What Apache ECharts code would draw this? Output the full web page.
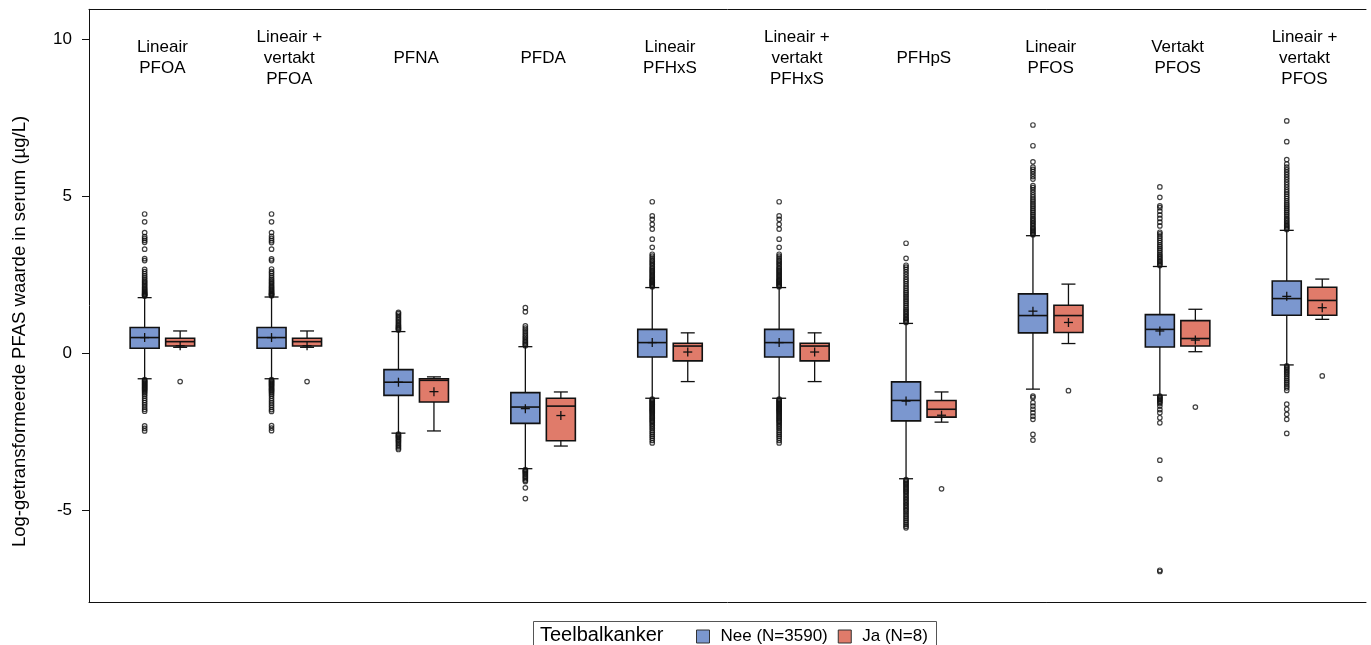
<!DOCTYPE html>
<html><head><meta charset="utf-8">
<script src="https://cdn.jsdelivr.net/npm/echarts@6/dist/echarts.min.js"></script>
<style>html,body{margin:0;padding:0;background:#fff}#c{width:1371px;height:645px}</style>
</head><body><div id="c"></div>
<script>
// ---------- DATA ----------
const categories = ['Lineair\nPFOA', 'Lineair +\nvertakt\nPFOA', 'PFNA', 'PFDA', 'Lineair\nPFHxS',
  'Lineair +\nvertakt\nPFHxS', 'PFHpS', 'Lineair\nPFOS', 'Vertakt\nPFOS', 'Lineair +\nvertakt\nPFOS'];
const yTicks = [-5, 0, 5, 10];
const seriesNames = ['Nee (N=3590)', 'Ja (N=8)'];
const legendTitle = 'Teelbalkanker';
const yTitle = 'Log-getransformeerde PFAS waarde in serum (µg/L)';

// [lower whisker, Q1, median, Q3, upper whisker]
const neeBox = [
  [-0.81, 0.16, 0.50, 0.82, 1.77],
  [-0.81, 0.16, 0.50, 0.82, 1.79],
  [-2.54, -1.34, -0.92, -0.52, 0.69],
  [-3.67, -2.23, -1.71, -1.25, 0.21],
  [-1.43, -0.12, 0.34, 0.76, 2.09],
  [-1.43, -0.12, 0.34, 0.76, 2.09],
  [-3.99, -2.15, -1.50, -0.91, 0.95],
  [-1.14, 0.65, 1.20, 1.89, 3.74],
  [-1.33, 0.20, 0.76, 1.23, 2.76],
  [-0.37, 1.21, 1.74, 2.30, 3.91]
];
const neeMean = [0.50, 0.50, -0.92, -1.76, 0.34, 0.34, -1.52, 1.34, 0.71, 1.81];

const jaBox = [
  [0.19, 0.23, 0.37, 0.48, 0.71],
  [0.19, 0.23, 0.37, 0.48, 0.71],
  [-2.47, -1.55, -0.86, -0.81, -0.75],
  [-2.95, -2.78, -1.68, -1.43, -1.23],
  [-0.90, -0.24, 0.23, 0.32, 0.65],
  [-0.90, -0.24, 0.23, 0.32, 0.65],
  [-2.19, -2.03, -1.78, -1.50, -1.23],
  [0.31, 0.66, 1.20, 1.53, 2.20],
  [0.05, 0.23, 0.47, 1.04, 1.40],
  [1.08, 1.21, 1.68, 2.10, 2.36]
];
const jaMean = [0.24, 0.24, -1.22, -1.98, 0.04, 0.04, -1.97, 0.98, 0.42, 1.45];

const neeOutliers = [
  [1.82,1.84,1.86,1.88,1.90,1.93,1.96,1.99,2.03,2.07,2.11,2.16,2.20,2.25,2.29,2.34,2.40,2.46,2.53,2.60,2.67,2.95,3.01,3.31,3.53,3.59,3.65,3.71,3.84,4.18,4.43,
   -0.84,-0.87,-0.90,-0.93,-0.96,-0.99,-1.02,-1.05,-1.08,-1.11,-1.14,-1.17,-1.21,-1.25,-1.30,-1.36,-1.43,-1.50,-1.57,-1.64,-1.71,-1.78,-1.84,-2.31,-2.39,-2.47],
  [1.83,1.85,1.87,1.89,1.91,1.94,1.97,2.00,2.04,2.08,2.12,2.16,2.21,2.25,2.30,2.35,2.41,2.47,2.54,2.60,2.68,2.95,3.00,3.31,3.52,3.58,3.65,3.72,3.84,4.18,4.43,
   -0.84,-0.87,-0.90,-0.93,-0.96,-0.99,-1.02,-1.05,-1.08,-1.12,-1.15,-1.18,-1.22,-1.26,-1.31,-1.37,-1.44,-1.51,-1.58,-1.65,-1.72,-1.79,-1.85,-2.30,-2.38,-2.46],
  [0.74,0.77,0.80,0.83,0.87,0.91,0.96,1.01,1.06,1.11,1.16,1.21,1.26,1.30,
   -2.57,-2.60,-2.63,-2.66,-2.69,-2.73,-2.77,-2.81,-2.86,-2.91,-2.96,-3.01,-3.06],
  [0.24,0.28,0.32,0.36,0.41,0.46,0.51,0.56,0.62,0.68,0.74,0.80,0.87,1.32,1.45,
   -3.70,-3.73,-3.76,-3.79,-3.83,-3.87,-3.91,-3.95,-3.99,-4.04,-4.08,-4.28,-4.62],
  [2.12,2.15,2.18,2.21,2.24,2.27,2.30,2.33,2.36,2.40,2.44,2.48,2.52,2.56,2.60,2.64,2.68,2.72,2.77,2.82,2.87,2.92,2.97,3.03,3.09,3.15,3.37,3.63,3.95,4.10,4.26,4.37,4.82,
   -1.46,-1.49,-1.52,-1.55,-1.58,-1.61,-1.64,-1.67,-1.70,-1.73,-1.76,-1.79,-1.82,-1.85,-1.88,-1.92,-1.96,-2.00,-2.04,-2.08,-2.12,-2.16,-2.20,-2.25,-2.30,-2.35,-2.40,-2.46,-2.52,-2.58,-2.64,-2.70,-2.77,-2.85],
  [2.12,2.15,2.18,2.21,2.24,2.27,2.30,2.33,2.36,2.40,2.44,2.48,2.52,2.56,2.60,2.64,2.68,2.72,2.77,2.82,2.87,2.92,2.97,3.03,3.09,3.15,3.37,3.63,3.95,4.10,4.26,4.37,4.82,
   -1.46,-1.49,-1.52,-1.55,-1.58,-1.61,-1.64,-1.67,-1.70,-1.73,-1.76,-1.79,-1.82,-1.85,-1.88,-1.92,-1.96,-2.00,-2.04,-2.08,-2.12,-2.16,-2.20,-2.25,-2.30,-2.35,-2.40,-2.46,-2.52,-2.58,-2.64,-2.70,-2.77,-2.85],
  [0.98,1.02,1.06,1.10,1.15,1.20,1.25,1.30,1.35,1.40,1.46,1.52,1.58,1.64,1.70,1.76,1.82,1.88,1.94,2.00,2.07,2.14,2.21,2.28,2.35,2.43,2.51,2.59,2.67,2.74,2.80,3.02,3.50,
   -4.02,-4.06,-4.10,-4.14,-4.18,-4.22,-4.26,-4.30,-4.34,-4.38,-4.42,-4.47,-4.52,-4.57,-4.62,-4.67,-4.72,-4.77,-4.82,-4.87,-4.92,-4.97,-5.02,-5.08,-5.14,-5.20,-5.26,-5.32,-5.38,-5.44,-5.50,-5.55],
  [3.77,3.80,3.84,3.88,3.92,3.96,4.00,4.05,4.10,4.15,4.20,4.25,4.30,4.36,4.42,4.48,4.54,4.60,4.66,4.72,4.78,4.84,4.90,4.97,5.04,5.12,5.20,5.27,5.33,5.54,5.62,5.70,5.78,5.85,5.92,6.09,6.60,7.26,
   -1.36,-1.41,-1.57,-1.68,-1.78,-1.89,-2.00,-2.10,-2.58,-2.76],
  [2.79,2.83,2.87,2.91,2.95,3.00,3.05,3.10,3.15,3.21,3.27,3.33,3.39,3.45,3.52,3.59,3.66,3.73,3.80,3.85,4.05,4.17,4.29,4.40,4.52,4.63,4.69,4.96,5.29,
   -1.36,-1.39,-1.42,-1.45,-1.48,-1.52,-1.56,-1.60,-1.68,-1.79,-1.89,-2.05,-2.21,-3.40,-4.00,-6.90,-6.94],
  [3.94,3.98,4.02,4.06,4.10,4.15,4.20,4.25,4.30,4.36,4.42,4.48,4.54,4.60,4.66,4.72,4.78,4.85,4.92,4.99,5.06,5.13,5.20,5.28,5.36,5.44,5.52,5.60,5.68,5.76,5.84,5.92,6.02,6.16,6.73,7.39,
   -0.40,-0.44,-0.48,-0.53,-0.58,-0.63,-0.68,-0.74,-0.80,-0.86,-0.92,-0.98,-1.04,-1.10,-1.18,-1.62,-1.78,-1.94,-2.10,-2.55]
];
const jaOutliers = [[-0.90], [-0.90], [], [], [], [], [-4.31], [-1.19], [-1.71], [-0.72]];

// ---------- STYLE ----------
const FONT = '"Liberation Sans", Arial, sans-serif';
const BLUE = '#7b97cf';
const RED = '#e07b6a';
const INK = '#111';
const Y_MIN = -7.91, Y_MAX = 10.94;
const OFFSET = 17.75;

function boxRenderer(offset, fill) {
  return function (params, api) {
    const idx = api.value(0);
    const xc = api.coord([idx, 0])[0] + offset;
    const py = v => api.coord([idx, v])[1];
    const wl = py(api.value(1)), q1 = py(api.value(2)), md = py(api.value(3)),
          q3 = py(api.value(4)), wh = py(api.value(5)), mn = py(api.value(6));
    const hw = 14.5, cw = 7, pw = 4.5;
    const ls = { stroke: INK, lineWidth: 1.3 };
    return {
      type: 'group', children: [
        { type: 'line', shape: { x1: xc, y1: wh, x2: xc, y2: q3 }, style: ls },
        { type: 'line', shape: { x1: xc, y1: q1, x2: xc, y2: wl }, style: ls },
        { type: 'line', shape: { x1: xc - cw, y1: wh, x2: xc + cw, y2: wh }, style: ls },
        { type: 'line', shape: { x1: xc - cw, y1: wl, x2: xc + cw, y2: wl }, style: ls },
        { type: 'rect', shape: { x: xc - hw, y: q3, width: 2 * hw, height: q1 - q3 }, style: { fill: fill, stroke: INK, lineWidth: 1.6 } },
        { type: 'line', shape: { x1: xc - hw, y1: md, x2: xc + hw, y2: md }, style: { stroke: INK, lineWidth: 1.6 } },
        { type: 'line', shape: { x1: xc - pw, y1: mn, x2: xc + pw, y2: mn }, style: ls },
        { type: 'line', shape: { x1: xc, y1: mn - pw, x2: xc, y2: mn + pw }, style: ls }
      ]
    };
  };
}

const neeData = neeBox.map((b, i) => [i].concat(b, [neeMean[i]]));
const jaData = jaBox.map((b, i) => [i].concat(b, [jaMean[i]]));
const toPairs = arr => arr.flatMap((vals, i) => vals.map(v => [i, v]));

const outlierStyle = { color: 'rgba(0,0,0,0)', borderColor: '#111', borderWidth: 1.2 };
const frameAxis = { show: true, onZero: false, lineStyle: { color: INK, width: 1 } };

const chart = echarts.init(document.getElementById('c'));
chart.setOption({
  animation: false,
  backgroundColor: '#fff',
  textStyle: { fontFamily: FONT },
  grid: [
    { left: 89, top: 9.3, width: 1277, height: 592.7 },
    { left: 98.95, top: 9.3, width: 1269, height: 592.7 }
  ],
  xAxis: [
    { gridIndex: 0, type: 'value', position: 'bottom', min: 0, max: 1, axisLine: frameAxis, axisTick: { show: false }, axisLabel: { show: false }, splitLine: { show: false } },
    { gridIndex: 0, type: 'value', position: 'top', min: 0, max: 1, axisLine: frameAxis, axisTick: { show: false }, axisLabel: { show: false }, splitLine: { show: false } },
    { gridIndex: 1, type: 'category', position: 'top', data: categories,
      axisLine: { show: false }, axisTick: { show: false }, splitLine: { show: false },
      axisLabel: { inside: true, interval: 0, margin: 49, verticalAlign: 'middle', lineHeight: 21, fontSize: 17, color: '#000', fontFamily: FONT } }
  ],
  yAxis: [
    { gridIndex: 0, type: 'value', min: Y_MIN, max: Y_MAX,
      axisLine: frameAxis,
      axisTick: { show: true, length: 7, lineStyle: { color: INK }, customValues: yTicks },
      axisLabel: { margin: 17, fontSize: 17, color: '#000', fontFamily: FONT, customValues: yTicks },
      splitLine: { show: false } },
    { gridIndex: 1, type: 'value', min: Y_MIN, max: Y_MAX, show: false, splitLine: { show: false } }
  ],
  legend: {
    left: 696, top: 628, itemWidth: 13, itemHeight: 13, itemGap: 10, padding: 0,
    selectedMode: false,
    textStyle: { fontSize: 17, color: '#000', fontFamily: FONT, padding: [0, 0, 0, 6] },
    data: [
      { name: seriesNames[0], icon: 'rect', itemStyle: { color: BLUE, borderColor: '#333', borderWidth: 1 } },
      { name: seriesNames[1], icon: 'rect', itemStyle: { color: RED, borderColor: '#333', borderWidth: 1 } }
    ]
  },
  graphic: [
    { type: 'rect', left: 531, top: 619, shape: { width: 403, height: 40 }, style: { fill: 'none', stroke: '#555', lineWidth: 1 }, silent: true },
    { type: 'text', x: 540, y: 635, style: { text: legendTitle, fontSize: 20, fill: '#000', fontFamily: FONT, verticalAlign: 'middle' } },
    { type: 'text', x: 20, y: 331.5, rotation: Math.PI / 2,
      style: { text: yTitle, fontSize: 18.5, fill: '#000', fontFamily: FONT, align: 'center', verticalAlign: 'middle' } }
  ],
  series: [
    { name: seriesNames[0], type: 'custom', xAxisIndex: 2, yAxisIndex: 1, itemStyle: { color: BLUE },
      renderItem: boxRenderer(-OFFSET, BLUE), encode: { x: 0, y: [1, 2, 3, 4, 5, 6] }, data: neeData, z: 3 },
    { name: seriesNames[1], type: 'custom', xAxisIndex: 2, yAxisIndex: 1, itemStyle: { color: RED },
      renderItem: boxRenderer(OFFSET, RED), encode: { x: 0, y: [1, 2, 3, 4, 5, 6] }, data: jaData, z: 3 },
    { name: 'Nee uitschieters', type: 'scatter', xAxisIndex: 2, yAxisIndex: 1, symbol: 'circle', symbolSize: 4.5,
      symbolOffset: [-OFFSET, 0], itemStyle: outlierStyle, data: toPairs(neeOutliers), silent: true, z: 4 },
    { name: 'Ja uitschieters', type: 'scatter', xAxisIndex: 2, yAxisIndex: 1, symbol: 'circle', symbolSize: 4.5,
      symbolOffset: [OFFSET, 0], itemStyle: outlierStyle, data: toPairs(jaOutliers), silent: true, z: 4 }
  ]
});
</script>
</body></html>
